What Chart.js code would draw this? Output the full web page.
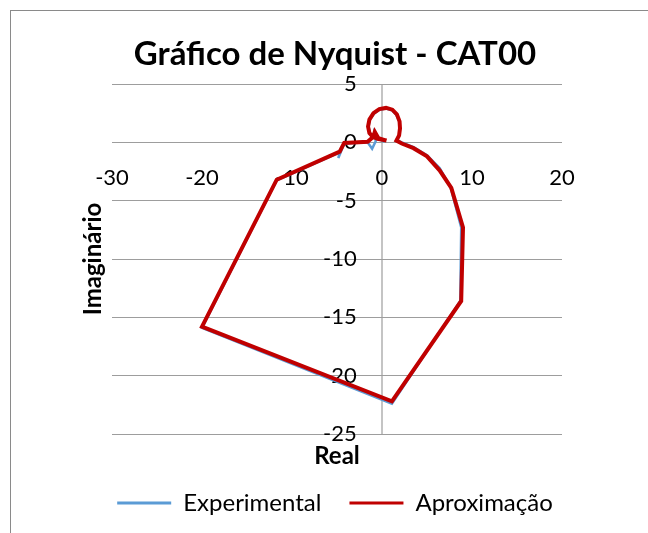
<!DOCTYPE html>
<html>
<head>
<meta charset="utf-8">
<script src="https://cdn.jsdelivr.net/npm/chart.js@4.4.1/dist/chart.umd.min.js"></script>
<style>
  html, body { margin: 0; padding: 0; background: #fff; overflow: hidden; }
  #wrap { position: relative; width: 648px; height: 533px; }
  #frame { position: absolute; left: 10px; top: 10px; width: 700px; height: 600px;
           border: 1px solid #8a8a8a; box-sizing: border-box; pointer-events: none; }
  canvas { position: absolute; left: 0; top: 0; }
</style>
</head>
<body>
<div id="wrap">
  <canvas id="c" width="648" height="533"></canvas>
  <div id="frame"></div>
</div>
<script>
// Nyquist diagram: real part on x, imaginary part on y
const chartTitle = 'Gráfico de Nyquist - CAT00';
const xTitle = 'Real';
const yTitle = 'Imaginário';
const seriesNames = ['Experimental', 'Aproximação'];

const xTicks = [-30, -20, -10, 0, 10, 20];
const yTicks = [-25, -20, -15, -10, -5, 0, 5];

// measured response
const expRe = [0.3, -0.4, -0.8, -0.7, -1.1, -1.6, -4.2, -4.85, -4.7, -11.7, -20.0, 1.1, 8.7, 8.8, 7.6, 6.4, 5.0, 3.5, 2.2,
               1.6, 1.9, 2.0, 1.9, 1.6, 1.1, 0.45, -0.3, -0.9, -1.35, -1.5, -1.35, -1.0, -0.5, 0.3];
const expIm = [0.05, 0.3, 0.8, 0.1, -0.55, 0.0, -0.1, -1.35, -0.85, -3.25, -15.9, -22.4, -13.6, -7.3, -3.8, -2.2, -1.1, -0.4, 0.0,
               0.2, 0.6, 1.2, 1.8, 2.35, 2.75, 2.9, 2.8, 2.45, 1.95, 1.35, 0.8, 0.45, 0.3, 0.1];

// fitted model
const aprRe = [0.5, -0.4, -0.8, -1.0, -1.6, -4.2, -4.7, -11.7, -20.0, 1.1, 8.8, 9.0, 7.7, 6.4, 5.0, 3.5, 2.2,
               1.6, 1.9, 2.0, 1.95, 1.65, 1.15, 0.45, -0.3, -0.95, -1.4, -1.55, -1.4, -1.05, -0.5, 0.5];
const aprIm = [0.15, 0.35, 0.9, 0.45, 0.05, -0.05, -0.8, -3.2, -15.8, -22.2, -13.6, -7.3, -3.9, -2.4, -1.2, -0.5, -0.1,
               0.15, 0.6, 1.2, 1.8, 2.4, 2.8, 2.95, 2.85, 2.5, 1.95, 1.35, 0.8, 0.5, 0.3, 0.15];

const FONT = 'Lato, "Open Sans", "DejaVu Sans", sans-serif';
const toPoints = (re, im) => re.map((x, i) => ({ x: x, y: im[i] }));

// axis titles placed around the plot area
const axisTitles = {
  id: 'axisTitles',
  afterDraw(chart) {
    const { ctx, chartArea: a } = chart;
    ctx.save();
    ctx.fillStyle = '#000';
    ctx.font = 'bold 24px ' + FONT;
    ctx.textAlign = 'center';
    ctx.textBaseline = 'middle';
    ctx.fillText(xTitle, (a.left + a.right) / 2, a.bottom + 22);
    ctx.translate(a.left - 19, (a.top + a.bottom) / 2);
    ctx.rotate(-Math.PI / 2);
    ctx.fillText(yTitle, 0, 0);
    ctx.restore();
  }
};

// empty side boxes that reserve the margins around the plot area
const spacer = (side, w) => ({
  type: 'linear', position: side, display: true,
  ticks: { display: false }, grid: { display: false }, border: { display: false },
  afterFit: s => { s.width = w; }
});

new Chart(document.getElementById('c'), {
  type: 'scatter',
  data: {
    datasets: [
      { label: seriesNames[0], data: toPoints(expRe, expIm), showLine: true,
        xAxisID: 'x', yAxisID: 'y',
        borderColor: '#5b9bd5', backgroundColor: '#5b9bd5', borderWidth: 2.5,
        pointRadius: 0, tension: 0, order: 1 },
      { label: seriesNames[1], data: toPoints(aprRe, aprIm), showLine: true,
        xAxisID: 'x', yAxisID: 'y',
        borderColor: '#c00000', backgroundColor: '#c00000', borderWidth: 4,
        pointRadius: 0, tension: 0, order: 0 }
    ]
  },
  options: {
    responsive: false,
    animation: false,
    devicePixelRatio: 1,
    layout: { padding: { left: 22, right: 0, top: 0, bottom: 8 } },
    plugins: {
      title: { display: true, text: chartTitle, color: '#000',
               font: { family: FONT, size: 33, weight: 'bold', lineHeight: 1.2 },
               padding: { top: 35, bottom: 9.4 } },
      legend: {
        position: 'bottom',
        title: { display: true, text: '', font: { size: 10, lineHeight: 1 }, padding: { top: 19, bottom: 0 } },
        labels: {
          boxWidth: 54, boxHeight: 3, padding: 28, color: '#000',
          font: { family: FONT, size: 24 },
          sort: (a, b) => a.datasetIndex - b.datasetIndex,
          generateLabels: chart => Chart.defaults.plugins.legend.labels.generateLabels(chart)
            .map(l => Object.assign(l, { lineWidth: 0 }))
        }
      },
      tooltip: { enabled: false }
    },
    scales: {
      x: {
        type: 'linear', position: { y: 0 }, min: xTicks[0], max: xTicks[xTicks.length - 1],
        afterBuildTicks: s => { s.ticks = xTicks.map(v => ({ value: v })); },
        afterFit: s => { s.height = 0; },
        grid: { drawTicks: false, lineWidth: 2,
                color: c => (c.tick && c.tick.value === 0) ? '#c4c4c4' : 'rgba(0,0,0,0)' },
        border: { display: false },
        ticks: { padding: 22, color: '#000', autoSkip: false, maxRotation: 0,
                 font: { family: FONT, size: 22 } }
      },
      y: {
        type: 'linear', position: { x: -2.8 }, min: yTicks[0], max: yTicks[yTicks.length - 1],
        afterBuildTicks: s => { s.ticks = yTicks.map(v => ({ value: v })); },
        afterFit: s => { s.width = 0; },
        grid: { drawTicks: false, lineWidth: 1, color: '#9d9d9d' },
        border: { display: false },
        ticks: { color: '#000', autoSkip: false, font: { family: FONT, size: 22 } }
      },
      padLeft: spacer('left', 90),
      padRight: spacer('right', 86)
    }
  },
  plugins: [axisTitles]
});
</script>
</body>
</html>
